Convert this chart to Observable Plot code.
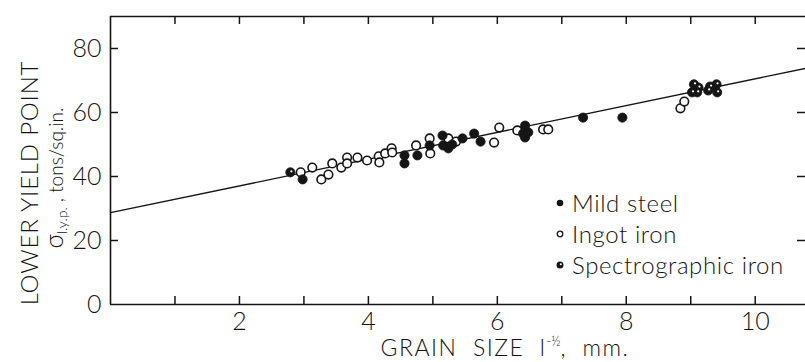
<!DOCTYPE html>
<html>
<head>
<meta charset="utf-8">
<script src="https://cdn.jsdelivr.net/npm/d3@7"></script>
<script src="https://cdn.jsdelivr.net/npm/@observablehq/plot@0.6"></script>
<style>
  html, body { margin: 0; padding: 0; background: #fff; }
  #wrap { position: relative; width: 805px; height: 362px; overflow: hidden; font-family: Lato, "Open Sans", sans-serif; font-weight: 300; color: #141414; }
  .ov { position: absolute; white-space: nowrap; line-height: 1; }
  #ytitle1 { left: 29px; top: 183px; transform: translate(-50%, -50%) rotate(-90deg); font-size: 24px; letter-spacing: 0.8px; }
  #ytitle2 { left: 55px; top: 178px; transform: translate(-50%, -50%) rotate(-90deg); font-size: 19px; }
  #ytitle2 .sig { font-size: 25px; }
  #ytitle2 sub { font-size: 14px; vertical-align: -4px; }
  #xtitle { left: 505px; top: 347px; transform: translate(-50%, -50%); font-size: 23px; letter-spacing: 1.5px; }
  #xtitle sup { font-size: 13px; vertical-align: 10px; letter-spacing: 0; }
  #legend { left: 555px; top: 187px; font-size: 24px; letter-spacing: 0.6px; }
  #legend .row { height: 31px; display: flex; align-items: center; }
  #legend svg { margin-right: 7px; }
</style>
</head>
<body>
<div id="wrap"></div>
<script>
// ---- data ----
const xTickLabels = [2, 4, 6, 8, 10];
const xTickMarks = [1, 2, 3, 4, 5, 6, 7, 8, 9, 10];
const yTickLabels = [0, 20, 40, 60, 80];
const yTickMarks = [20, 40, 60, 80];

const seriesNames = ["Mild steel", "Ingot iron", "Spectrographic iron"];

const mildX = [2.98, 4.56, 4.56, 4.76, 4.95, 5.15, 5.16, 5.24, 5.30, 5.46, 5.64, 5.74, 6.43, 6.40, 6.48, 6.43, 7.33, 7.94];
const mildY = [39.1, 46.6, 44.1, 46.6, 49.7, 52.8, 49.7, 48.8, 50.0, 51.9, 53.4, 50.9, 55.9, 53.4, 53.8, 52.2, 58.4, 58.4];

const ingotX = [2.95, 3.13, 3.27, 3.38, 3.44, 3.58, 3.67, 3.67, 3.83, 3.98, 4.16, 4.17, 4.26, 4.36, 4.37, 4.74, 4.95, 4.96, 5.24, 5.36, 5.95, 6.03, 6.31, 6.71, 6.79, 8.84, 8.90];
const ingotY = [41.3, 42.8, 39.1, 40.6, 44.1, 42.8, 45.9, 44.1, 45.9, 45.0, 46.3, 44.4, 47.2, 48.8, 47.5, 49.7, 51.9, 47.2, 51.9, 50.9, 50.6, 55.3, 54.4, 54.7, 54.7, 61.3, 63.4];

const spectroX = [2.79, 9.02, 9.05, 9.10, 9.12, 9.27, 9.30, 9.40, 9.41];
const spectroY = [41.3, 66.3, 68.8, 66.3, 67.8, 66.9, 68.1, 68.8, 66.3];

const fitX = [0, 10.78];
const fitY = [28.7, 73.8];

const xDomain = [0, 10.78];
const yDomain = [0, 90];

// ---- build tables ----
const toRows = (xs, ys) => xs.map((x, i) => ({x, y: ys[i]}));
const mild = toRows(mildX, mildY);
const ingot = toRows(ingotX, ingotY);
const spectro = toRows(spectroX, spectroY);
const fit = toRows(fitX, fitY);

const W = 805, H = 362;
const mL = 110, mR = 0, mT = 16, mB = 58;
const pw = W - mL - mR, ph = H - mT - mB;
const ink = "#151515";
const tick = 8;

const chart = Plot.plot({
  width: W, height: H,
  marginLeft: mL, marginRight: mR, marginTop: mT, marginBottom: mB,
  x: {domain: xDomain},
  y: {domain: yDomain},
  style: {fontFamily: "Lato, 'Open Sans', sans-serif", fontSize: "25px", fontWeight: 300, color: ink, background: "#fff"},
  marks: [
    Plot.ruleX([0], {stroke: ink, strokeWidth: 1.6}),
    Plot.ruleY([0, 90], {stroke: ink, strokeWidth: 1.6}),
    Plot.ruleX(xTickMarks, {stroke: ink, strokeWidth: 1.5, insetTop: ph - tick}),
    Plot.ruleX(xTickMarks, {stroke: ink, strokeWidth: 1.5, insetBottom: ph - tick}),
    Plot.ruleY(yTickMarks, {stroke: ink, strokeWidth: 1.5, insetRight: pw - tick}),
    Plot.ruleY(yTickMarks, {stroke: ink, strokeWidth: 1.5, insetLeft: pw - tick}),
    Plot.line(fit, {x: "x", y: "y", stroke: ink, strokeWidth: 1.4}),
    Plot.dot(ingot, {x: "x", y: "y", r: 4.3, fill: "#fff", stroke: ink, strokeWidth: 1.6}),
    Plot.dot(mild, {x: "x", y: "y", r: 4.6, fill: ink, stroke: ink, strokeWidth: 0.8}),
    Plot.dot(spectro, {x: "x", y: "y", r: 4.6, fill: ink, stroke: ink, strokeWidth: 0.8}),
    Plot.dot(spectro, {x: "x", y: "y", r: 1.1, fill: "#fff", dx: 1, dy: -1}),
    Plot.axisX({ticks: xTickLabels, tickSize: 0, tickPadding: 8, label: null, tickFormat: d => String(d)}),
    Plot.axisY({ticks: yTickLabels, tickSize: 0, tickPadding: 9, label: null, tickFormat: d => String(d)})
  ]
});

const wrap = document.getElementById("wrap");
wrap.appendChild(chart);

const y1 = document.createElement("div");
y1.className = "ov"; y1.id = "ytitle1";
y1.textContent = "LOWER YIELD POINT";
wrap.appendChild(y1);

const y2 = document.createElement("div");
y2.className = "ov"; y2.id = "ytitle2";
y2.innerHTML = '<span class="sig">σ</span><sub>l.y.p.</sub> , tons/sq.in.';
wrap.appendChild(y2);

const xt = document.createElement("div");
xt.className = "ov"; xt.id = "xtitle";
xt.innerHTML = 'GRAIN &nbsp;SIZE &nbsp;l<sup>-½</sup>, &nbsp;mm.';
wrap.appendChild(xt);

// legend
const lg = document.createElement("div");
lg.className = "ov"; lg.id = "legend";
const markerSvg = (i) => {
  if (i === 0) return `<svg width="10" height="10"><circle cx="5" cy="5" r="3.3" fill="${ink}"/></svg>`;
  if (i === 1) return `<svg width="10" height="10"><circle cx="5" cy="5" r="2.8" fill="#fff" stroke="${ink}" stroke-width="1.3"/></svg>`;
  return `<svg width="10" height="10"><circle cx="5" cy="5" r="3.5" fill="${ink}"/><circle cx="5.8" cy="4.2" r="1" fill="#fff"/></svg>`;
};
seriesNames.forEach((name, i) => {
  const row = document.createElement("div");
  row.className = "row";
  row.innerHTML = markerSvg(i) + `<span>${name}</span>`;
  lg.appendChild(row);
});
wrap.appendChild(lg);
</script>
</body>
</html>
